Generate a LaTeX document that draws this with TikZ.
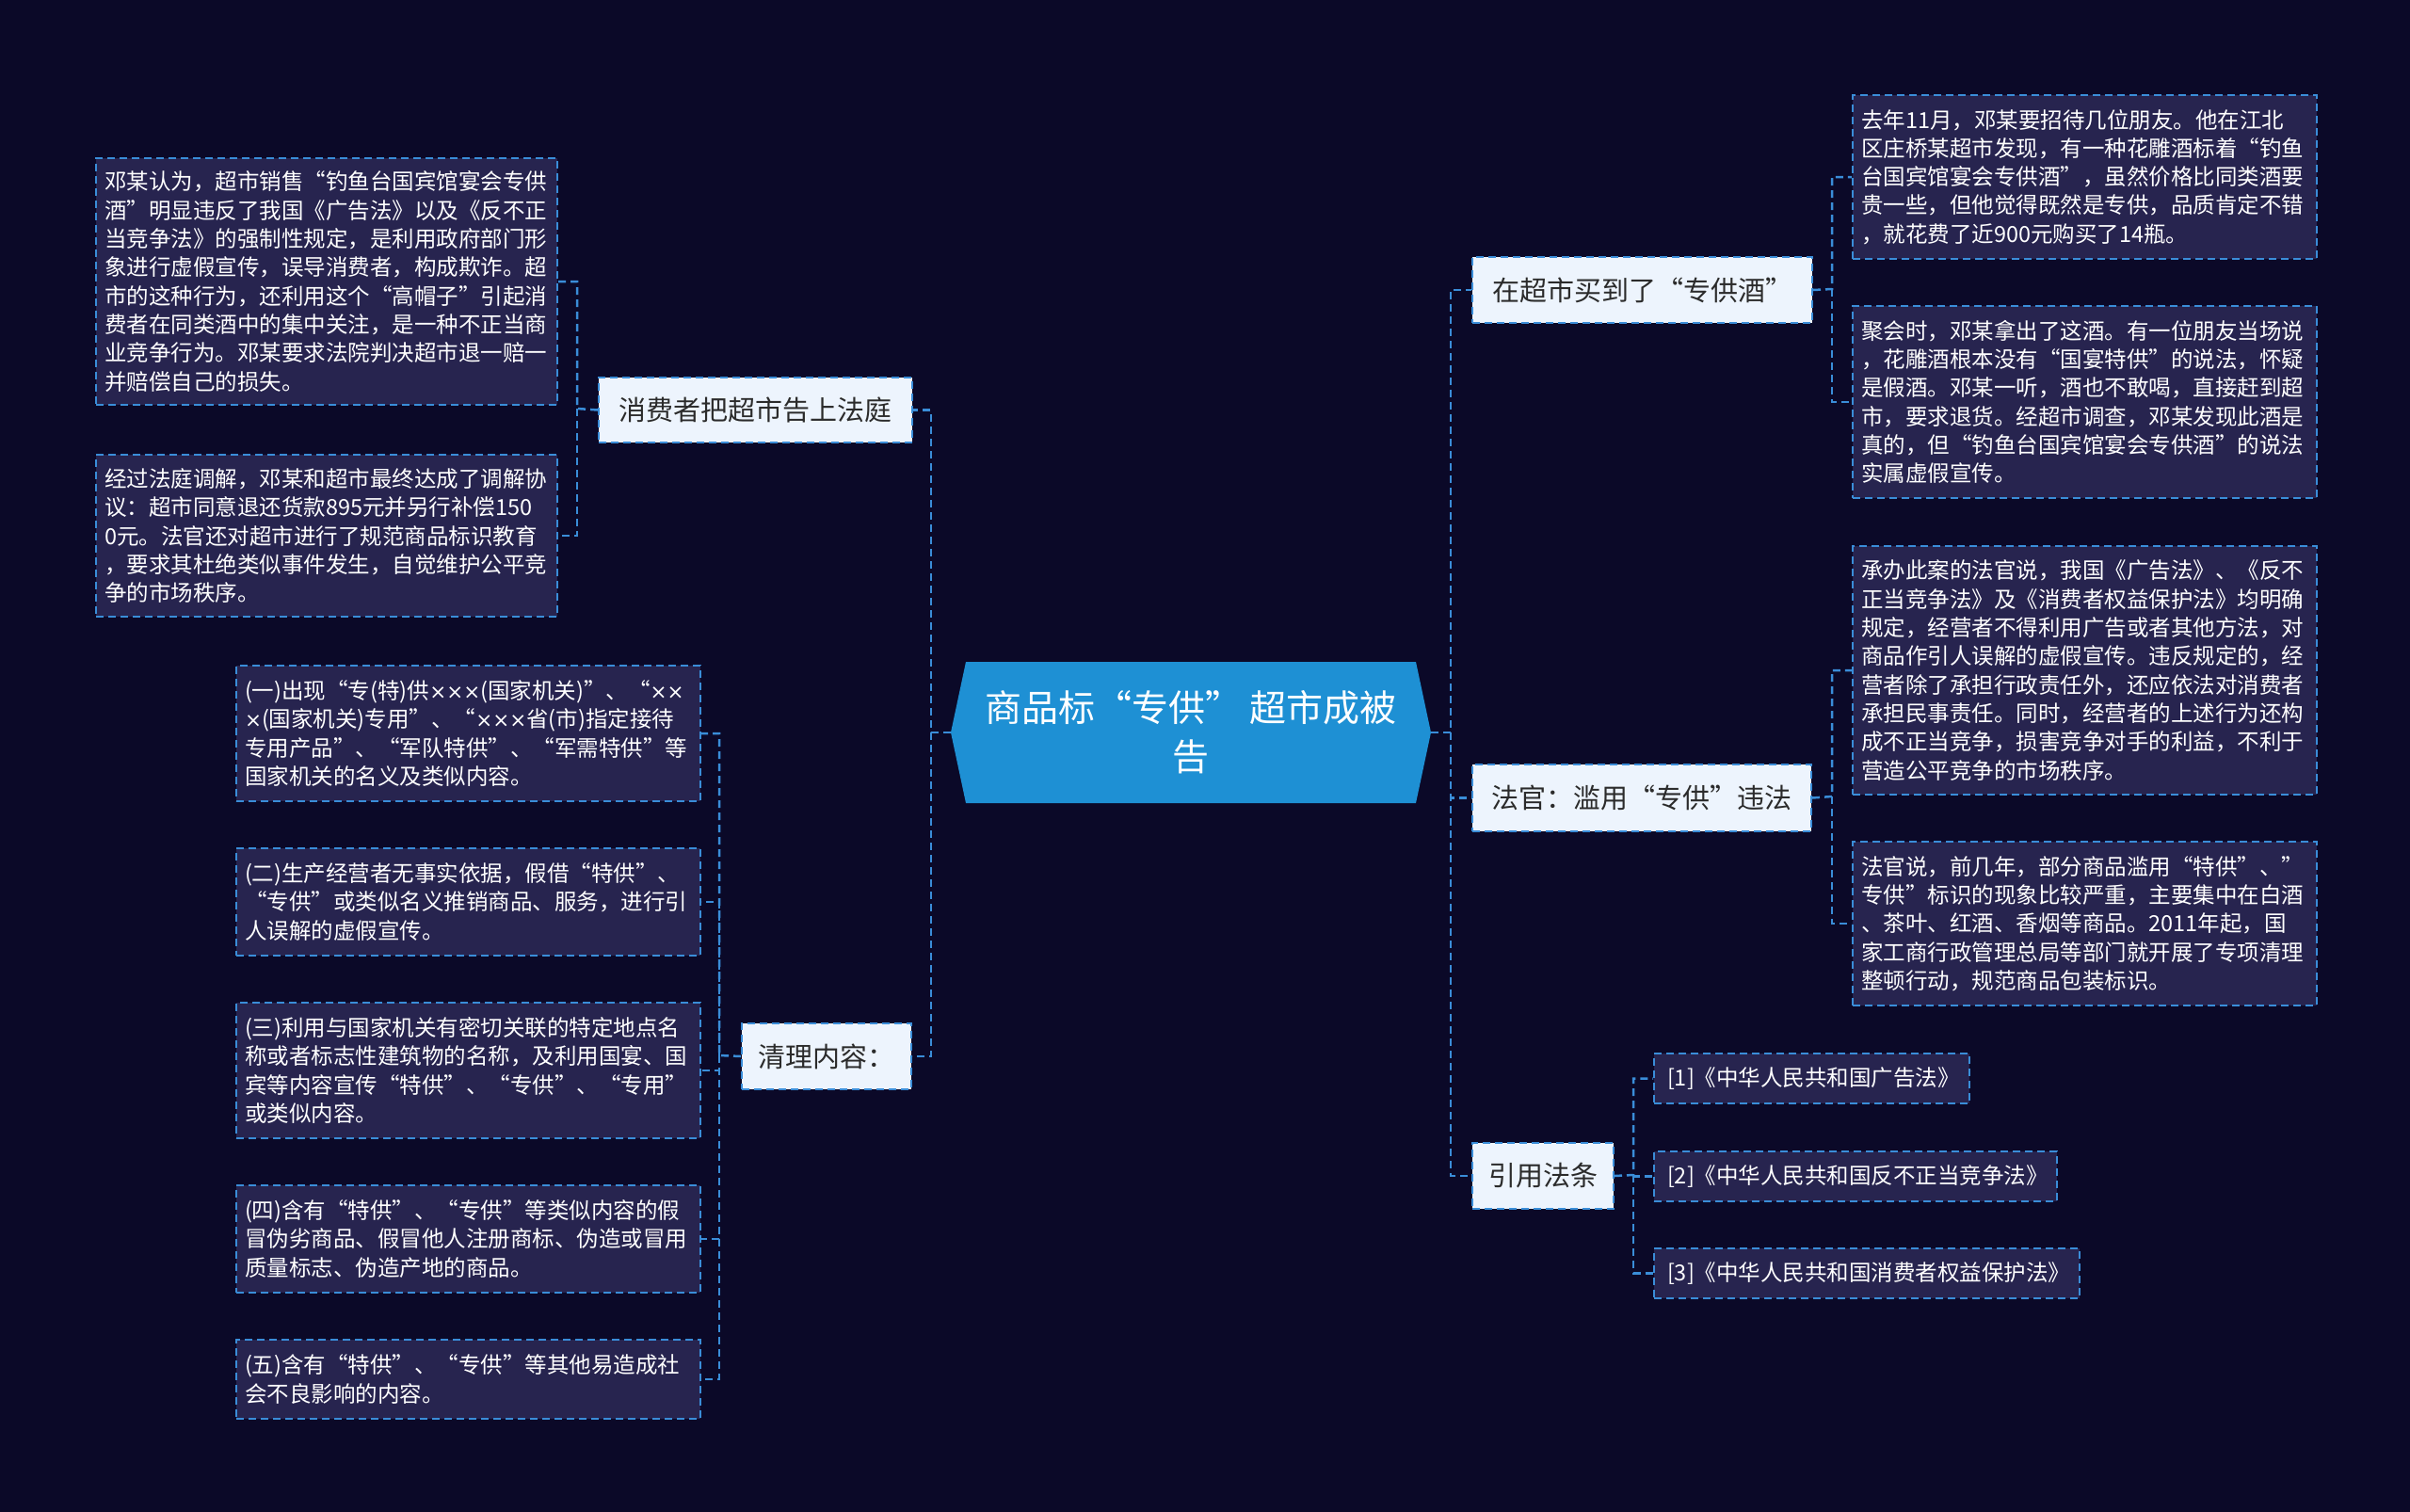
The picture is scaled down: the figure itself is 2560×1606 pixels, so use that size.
\documentclass[tikz,border=0pt]{standalone}
\usepackage{fontspec}
\setmainfont{Noto Sans CJK SC}
\newfontfamily\latinfont{DejaVu Sans}
\newcommand{\tms}{{\latinfont\fontsize{21.5}{30.3}\selectfont ×}}
\definecolor{bgcol}{HTML}{0B0928}
\definecolor{boxfill}{HTML}{27244F}
\definecolor{lineblue}{HTML}{3A8DD8}
\definecolor{secfill}{HTML}{EDF4FD}
\definecolor{centfill}{HTML}{1E90D4}
\definecolor{sectext}{HTML}{2B2B2B}
\begin{document}
\begin{tikzpicture}[x=1pt,y=-1pt,
  tbox/.style={draw=lineblue, fill=boxfill, line width=2pt, dash pattern=on 8pt off 5pt,
    text=white, font=\fontsize{23.5}{30.3}\selectfont, align=left, inner xsep=9pt, inner ysep=0pt,
    anchor=north west},
  rbox/.style={tbox, inner xsep=14pt},
  sbox/.style={draw=lineblue, fill=secfill, line width=2pt, dash pattern=on 8pt off 5pt,
    text=sectext, font=\fontsize{29}{34}\selectfont, align=center, inner sep=0pt, anchor=north west},
  conn/.style={draw=lineblue, line width=2.5pt, dash pattern=on 8pt off 5pt}]
\fill[bgcol] (0,0) rectangle (2560,1606);
\useasboundingbox (0,0) rectangle (2560,1606);

% central node
\fill[centfill] (1010,778) -- (1026,703) -- (1504,703) -- (1520,778) -- (1504,853) -- (1026,853) -- cycle;
\node[text=white, font=\fontsize{39}{52}\selectfont, align=center, minimum width=510pt, minimum height=150pt, inner sep=0pt] (c) at (1265,778) {商品标“专供” 超市成被\\告};

% secondary nodes
\node[sbox, minimum width=333pt, minimum height=69pt] (n1) at (635,400) {消费者把超市告上法庭};
\node[sbox, minimum width=180pt, minimum height=70pt] (n2) at (787,1086) {清理内容：};
\node[sbox, minimum width=361pt, minimum height=70pt] (n3) at (1563,272) {在超市买到了“专供酒”};
\node[sbox, minimum width=360pt, minimum height=71pt] (n4) at (1563,811) {法官：滥用“专供”违法};
\node[sbox, minimum width=150pt, minimum height=70pt] (n5) at (1563,1213) {引用法条};

% left text boxes
\node[tbox, text width=472pt, minimum height=262pt] (a1) at (101,167) {邓某认为，超市销售“钓鱼台国宾馆宴会专供\\酒”明显违反了我国《广告法》以及《反不正\\当竞争法》的强制性规定，是利用政府部门形\\象进行虚假宣传，误导消费者，构成欺诈。超\\市的这种行为，还利用这个“高帽子”引起消\\费者在同类酒中的集中关注，是一种不正当商\\业竞争行为。邓某要求法院判决超市退一赔一\\并赔偿自己的损失。};
\node[tbox, text width=472pt, minimum height=172pt] (a2) at (101,482) {经过法庭调解，邓某和超市最终达成了调解协\\议：超市同意退还货款895元并另行补偿150\\0元。法官还对超市进行了规范商品标识教育\\，要求其杜绝类似事件发生，自觉维护公平竞\\争的市场秩序。};

\node[tbox, text width=475pt, minimum height=144pt] (b1) at (250,706) {(一)出现“专(特)供\tms\tms\tms(国家机关)”、“\tms\tms\\\tms(国家机关)专用”、“\tms\tms\tms 省(市)指定接待\\专用产品”、“军队特供”、“军需特供”等\\国家机关的名义及类似内容。};
\node[tbox, text width=475pt, minimum height=114pt] (b2) at (250,900) {(二)生产经营者无事实依据，假借“特供”、\\“专供”或类似名义推销商品、服务，进行引\\人误解的虚假宣传。};
\node[tbox, text width=475pt, minimum height=144pt] (b3) at (250,1064) {(三)利用与国家机关有密切关联的特定地点名\\称或者标志性建筑物的名称，及利用国宴、国\\宾等内容宣传“特供”、“专供”、“专用”\\或类似内容。};
\node[tbox, text width=475pt, minimum height=114pt] (b4) at (250,1258) {(四)含有“特供”、“专供”等类似内容的假\\冒伪劣商品、假冒他人注册商标、伪造或冒用\\质量标志、伪造产地的商品。};
\node[tbox, text width=475pt, minimum height=84pt] (b5) at (250,1422) {(五)含有“特供”、“专供”等其他易造成社\\会不良影响的内容。};

% right text boxes
\node[tbox, text width=475pt, minimum height=174pt] (c1) at (1967,100) {去年11月，邓某要招待几位朋友。他在江北\\区庄桥某超市发现，有一种花雕酒标着“钓鱼\\台国宾馆宴会专供酒”，虽然价格比同类酒要\\贵一些，但他觉得既然是专供，品质肯定不错\\，就花费了近900元购买了14瓶。};
\node[tbox, text width=475pt, minimum height=204pt] (c2) at (1967,324) {聚会时，邓某拿出了这酒。有一位朋友当场说\\，花雕酒根本没有“国宴特供”的说法，怀疑\\是假酒。邓某一听，酒也不敢喝，直接赶到超\\市，要求退货。经超市调查，邓某发现此酒是\\真的，但“钓鱼台国宾馆宴会专供酒”的说法\\实属虚假宣传。};
\node[tbox, text width=475pt, minimum height=264pt] (c3) at (1967,579) {承办此案的法官说，我国《广告法》、《反不\\正当竞争法》及《消费者权益保护法》均明确\\规定，经营者不得利用广告或者其他方法，对\\商品作引人误解的虚假宣传。违反规定的，经\\营者除了承担行政责任外，还应依法对消费者\\承担民事责任。同时，经营者的上述行为还构\\成不正当竞争，损害竞争对手的利益，不利于\\营造公平竞争的市场秩序。};
\node[tbox, text width=475pt, minimum height=174pt] (c4) at (1967,893) {法官说，前几年，部分商品滥用“特供”、”\\专供”标识的现象比较严重，主要集中在白酒\\、茶叶、红酒、香烟等商品。2011年起，国\\家工商行政管理总局等部门就开展了专项清理\\整顿行动，规范商品包装标识。};

\node[rbox, text width=307pt, minimum height=53pt] (r1) at (1756,1118) {[1]《中华人民共和国广告法》};
\node[rbox, text width=400pt, minimum height=53pt] (r2) at (1756,1222) {[2]《中华人民共和国反不正当竞争法》};
\node[rbox, text width=424pt, minimum height=53pt] (r3) at (1756,1325) {[3]《中华人民共和国消费者权益保护法》};

% connectors
\coordinate (lj) at (989,778);
\coordinate (rj) at (1541,778);
\draw[conn] (c.west) -- (lj) |- (n1.east);
\draw[conn] (lj) |- (n2.east);
\draw[conn] (c.east) -- (rj) |- (n3.west);
\draw[conn] (rj) |- (n4.west);
\draw[conn] (rj) |- (n5.west);

\coordinate (aj) at (613,434);
\draw[conn] (n1.west) -- (aj) |- (a1.east);
\draw[conn] (aj) |- (a2.east);

\coordinate (bj) at (764,1121);
\draw[conn] (n2.west) -- (bj) |- (b1.east);
\draw[conn] (bj) |- (b2.east);
\draw[conn] (bj) |- (b3.east);
\draw[conn] (bj) |- (b4.east);
\draw[conn] (bj) |- (b5.east);

\coordinate (cj) at (1946,307);
\draw[conn] (n3.east) -- (cj) |- (c1.west);
\draw[conn] (cj) |- (c2.west);

\coordinate (dj) at (1946,846);
\draw[conn] (n4.east) -- (dj) |- (c3.west);
\draw[conn] (dj) |- (c4.west);

\coordinate (ej) at (1735,1248);
\draw[conn] (n5.east) -- (ej) |- (r1.west);
\draw[conn] (ej) |- (r2.west);
\draw[conn] (ej) |- (r3.west);
\end{tikzpicture}
\end{document}
